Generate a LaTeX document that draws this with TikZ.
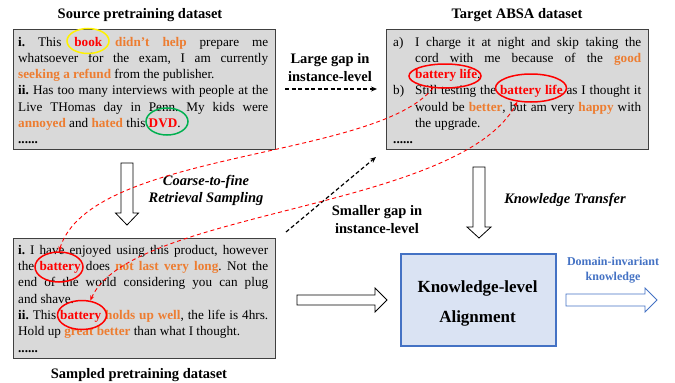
\documentclass[tikz,border=0pt]{standalone}
\usepackage{fontspec}
\setmainfont{Liberation Serif}
\usetikzlibrary{shapes.geometric,arrows.meta}
\definecolor{orng}{HTML}{ED7D31}
\definecolor{boxgray}{HTML}{D9D9D9}
\definecolor{kblue}{HTML}{4472C4}
\definecolor{kfill}{HTML}{DAE3F3}
\definecolor{grn}{HTML}{00B050}
\newcommand{\asp}[1]{\textbf{\textcolor{red}{#1}}}
\newcommand{\opn}[1]{\textbf{\textcolor{orng}{#1}}}
\newcommand{\nohyph}{\frenchspacing\hyphenpenalty=10000\exhyphenpenalty=10000\tolerance=10000\hbadness=10000}
\begin{document}
\begin{tikzpicture}[x=1pt,y=-1pt,
  databox/.style={draw=black!75, fill=boxgray, line width=1pt, inner sep=0pt, anchor=north west},
  bodytext/.style={anchor=north west, inner sep=0pt, text width=250pt, align=justify, font=\fontsize{13.2}{16.2}\selectfont\nohyph},
  titletext/.style={font=\fontsize{14.5}{17}\selectfont\bfseries, inner sep=0pt},
  labeltext/.style={font=\fontsize{14.5}{18}\selectfont\bfseries, align=center, inner sep=0pt},
  aspring/.style={ellipse, draw=red, line width=1.5pt, inner sep=0pt},
  hollow/.style={draw=black, fill=white, line width=0.8pt},
  reddash/.style={red, dash pattern=on 4pt off 3pt, line width=0.9pt},
  blkdash/.style={black, dash pattern=on 4pt off 2.5pt, line width=1.2pt, -{Stealth[length=6pt,width=5pt]}}
]
\useasboundingbox (0,0) rectangle (675,383);

% boxes
\node[databox, minimum width=262pt, minimum height=120pt] (src) at (13,29) {};
\node[databox, minimum width=262pt, minimum height=120pt] (tgt) at (386,29) {};
\node[databox, minimum width=262pt, minimum height=120pt] (smp) at (13,238) {};
\node[draw=kblue, fill=kfill, line width=1.5pt, minimum width=155pt, minimum height=92pt, inner sep=0pt, anchor=north west] (kla) at (400,253) {};

% titles
\node[titletext] (srct) at (140,15) {Source pretraining dataset};
\node[titletext] (tgtt) at (517,15) {Target ABSA dataset};
\node[titletext] (smpt) at (139,375) {Sampled pretraining dataset};

% body texts
\node[bodytext] (srcx) at (18,37) {\textbf{i.} This \asp{book} \opn{didn't help} prepare me\linebreak whatsoever for the exam, I am currently\linebreak \opn{seeking a refund} from the publisher.\par
\noindent\textbf{ii.} Has too many interviews with people at the\linebreak Live THomas day in Penn. My kids were\linebreak \opn{annoyed} and \opn{hated} this \asp{DVD}.\par
\noindent\textbf{......}};

\node[bodytext, text width=248pt] (tgtx) at (393,37) {\hangindent=22pt\hangafter=1\noindent\makebox[22pt][l]{a)}I charge it at night and skip taking the\linebreak cord with me because of the \opn{good}\linebreak \asp{battery life}.\par
\hangindent=22pt\hangafter=1\noindent\makebox[22pt][l]{b)}Still testing the \asp{battery life} as I thought it\linebreak would be \opn{better}, but am very \opn{happy} with\linebreak the upgrade.\par
\noindent\textbf{......}};

\node[bodytext, font=\fontsize{13.2}{16.3}\selectfont\nohyph] (smpx) at (18,245) {\textbf{i.} I have enjoyed using this product, however\linebreak the \asp{battery} does \opn{not last very long}. Not the\linebreak end of the world considering you can plug\linebreak and shave.\par
\noindent\textbf{ii.} This \asp{battery} \opn{holds up well}, the life is 4hrs.\linebreak Hold up \opn{great better} than what I thought.\par
\noindent\textbf{......}};

% rings
\node[ellipse, draw=yellow, line width=1.5pt, inner sep=0pt, minimum width=42pt, minimum height=25pt] (rbook) at (88,41) {};
\node[ellipse, draw=grn, line width=1.5pt, inner sep=0pt, minimum width=42pt, minimum height=27pt] (rdvd) at (167,121.5) {};
\node[aspring, minimum width=72pt, minimum height=24pt] (bl1) at (445,76) {};
\node[aspring, minimum width=71pt, minimum height=28pt] (bl2) at (531,88) {};
\node[aspring, minimum width=48pt, minimum height=30pt] (sb1) at (59,267) {};
\node[aspring, minimum width=49pt, minimum height=29pt] (sb2) at (82,315) {};

% labels
\node[labeltext] (lgap) at (330,68) {Large gap in\\instance-level};
\node[labeltext] (sgap) at (377,219.5) {Smaller gap in\\instance-level};
\node[font=\fontsize{14.5}{17}\selectfont\bfseries\itshape, align=center, inner sep=0pt] (crs) at (206,190.5) {Coarse-to-fine\\Retrieval Sampling};
\node[font=\fontsize{14.5}{17}\selectfont\bfseries\itshape, inner sep=0pt] (ktr) at (565,200) {Knowledge Transfer};
\node[font=\fontsize{17}{30}\selectfont\bfseries, align=center, inner sep=0pt] (klat) at (477.5,303) {Knowledge-level\\Alignment};
\node[font=\fontsize{12}{15}\selectfont\bfseries, text=kblue, align=center, inner sep=0pt] (dik) at (613,270.5) {Domain-invariant\\knowledge};

% hollow arrows
\draw[hollow] (121,163) -- (133,163) -- (133,213) -- (138.5,213) -- (127,225) -- (115.5,213) -- (121,213) -- cycle;
\draw[hollow] (473,167) -- (485,167) -- (485,227) -- (491,227) -- (479,238) -- (467,227) -- (473,227) -- cycle;
\draw[hollow] (297,295) -- (375,295) -- (375,288) -- (387,300) -- (375,312) -- (375,305) -- (297,305) -- cycle;
\draw[hollow, draw=kblue] (566,294) -- (645,294) -- (645,288) -- (657,300) -- (645,312) -- (645,306) -- (566,306) -- cycle;

% black dashed arrows
\coordinate (la1) at (285,89);
\coordinate (la2) at (377,89);
\coordinate (sa1) at (286,232);
\coordinate (sa2) at (376,157);
\draw[blkdash] (la1) -- (la2);
\draw[blkdash] (sa1) -- (sa2);

% red dashed curves
\draw[reddash, -{Stealth[length=5pt,width=4pt]}] (bl1.225) .. controls (375,160) and (90,150) .. (sb1.north);
\draw[reddash, {Stealth[length=5pt,width=4pt]}-{Stealth[length=5pt,width=4pt]}] (sb2.60) .. controls (130,210) and (460,210) .. (bl2.225);
\end{tikzpicture}
\end{document}
